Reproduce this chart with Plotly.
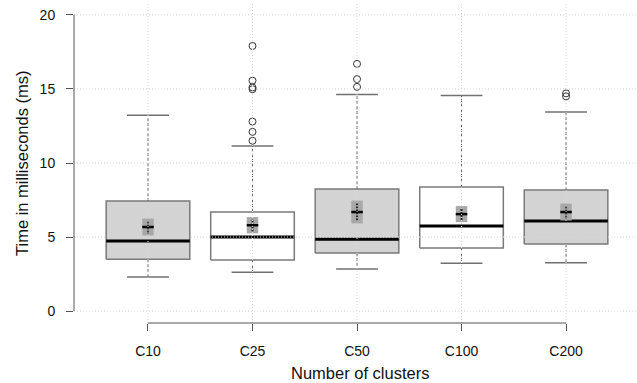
import plotly.graph_objects as go

categories = ["C10", "C25", "C50", "C100", "C200"]
q1 = [3.51, 3.45, 3.92, 4.26, 4.53]
median = [4.73, 5.00, 4.86, 5.74, 6.08]
q3 = [7.43, 6.69, 8.24, 8.38, 8.18]
lower_whisker = [2.30, 2.63, 2.84, 3.24, 3.27]
upper_whisker = [13.22, 11.15, 14.62, 14.55, 13.45]
means = [5.68, 5.80, 6.69, 6.55, 6.69]
mean_ci = [0.57, 0.55, 0.77, 0.54, 0.57]
outliers = [
    [],
    [11.5, 12.1, 12.8, 14.98, 15.1, 15.56, 17.9],
    [15.14, 15.66, 16.69],
    [],
    [14.5, 14.7],
]
fills = ["#d3d3d3", "#ffffff", "#d3d3d3", "#ffffff", "#d3d3d3"]
y_ticks = [0, 5, 10, 15, 20]

BOX_HALF = 0.4
CAP_HALF = 0.2
CI_HALF = 0.055

fig = go.Figure()
for i, c in enumerate(categories):
    fig.add_trace(go.Scatter(
        x=[i - BOX_HALF, i + BOX_HALF, i + BOX_HALF, i - BOX_HALF, i - BOX_HALF],
        y=[q1[i], q1[i], q3[i], q3[i], q1[i]],
        fill="toself", fillcolor=fills[i], mode="lines",
        line=dict(color="#7a7a7a", width=1.5), hoverinfo="skip", showlegend=False))
    fig.add_trace(go.Scatter(
        x=[i, i, None, i, i],
        y=[q3[i], upper_whisker[i], None, q1[i], lower_whisker[i]],
        mode="lines", line=dict(color="#666666", width=1, dash="3px,2px"),
        hoverinfo="skip", showlegend=False))
    fig.add_trace(go.Scatter(
        x=[i - CAP_HALF, i + CAP_HALF, None, i - CAP_HALF, i + CAP_HALF],
        y=[upper_whisker[i], upper_whisker[i], None, lower_whisker[i], lower_whisker[i]],
        mode="lines", line=dict(color="#707070", width=1.5),
        hoverinfo="skip", showlegend=False))
    fig.add_trace(go.Scatter(
        x=[i - BOX_HALF, i + BOX_HALF], y=[median[i], median[i]],
        mode="lines", line=dict(color="#000000", width=3),
        hoverinfo="skip", showlegend=False))
    lo, hi = means[i] - mean_ci[i], means[i] + mean_ci[i]
    fig.add_trace(go.Scatter(
        x=[i - CI_HALF, i + CI_HALF, i + CI_HALF, i - CI_HALF, i - CI_HALF],
        y=[lo, lo, hi, hi, lo],
        fill="toself", fillcolor="#a8a8a8", mode="lines",
        line=dict(color="#a8a8a8", width=0), hoverinfo="skip", showlegend=False))
    fig.add_trace(go.Scatter(
        x=[i, i], y=[means[i] - 0.75 * mean_ci[i], means[i] + 0.75 * mean_ci[i]],
        mode="lines", line=dict(color="#222222", width=2, dash="2px,1px"),
        hoverinfo="skip", showlegend=False))
    fig.add_trace(go.Scatter(
        x=[i - CI_HALF, i + CI_HALF], y=[means[i], means[i]],
        mode="lines", line=dict(color="#000000", width=2.5),
        hoverinfo="skip", showlegend=False))
    if outliers[i]:
        fig.add_trace(go.Scatter(
            x=[i] * len(outliers[i]), y=outliers[i], mode="markers",
            marker=dict(symbol="circle-open", size=7, color="#333333",
                        line=dict(width=1, color="#333333")),
            hoverinfo="skip", showlegend=False))

shapes = []
for v in y_ticks:
    shapes.append(dict(type="line", xref="paper", x0=0, x1=1, yref="y", y0=v, y1=v,
                       line=dict(color="#d8d8d8", width=1, dash="1px,2px"), layer="above"))
for i in range(len(categories)):
    shapes.append(dict(type="line", xref="x", x0=i, x1=i, yref="paper", y0=0, y1=1,
                       line=dict(color="#d8d8d8", width=1, dash="1px,2px"), layer="above"))
shapes.append(dict(type="line", xref="paper", x0=0, x1=0, yref="y", y0=y_ticks[0], y1=y_ticks[-1],
                   line=dict(color="#555555", width=1), layer="above"))
shapes.append(dict(type="line", xref="x", x0=0, x1=len(categories) - 1, yref="paper", y0=0, y1=0,
                   line=dict(color="#555555", width=1), layer="above"))

font = "Liberation Sans, Arial, Helvetica, sans-serif"
fig.update_layout(
    width=637, height=383,
    margin=dict(l=74, r=0, t=3, b=60),
    paper_bgcolor="white", plot_bgcolor="white",
    font=dict(family=font, color="#111111", size=14),
    shapes=shapes,
    xaxis=dict(range=[-0.708, 4.679], tickmode="array",
               tickvals=list(range(len(categories))), ticktext=categories,
               showgrid=False, zeroline=False, showline=False,
               ticks="outside", ticklen=7, tickcolor="#555555", tickwidth=1,
               ticklabelstandoff=8, tickfont=dict(size=14)),
    yaxis=dict(range=[-0.8, 20.8], tickmode="array", tickvals=y_ticks,
               ticktext=[str(v) for v in y_ticks],
               showgrid=False, zeroline=False, showline=False,
               ticks="outside", ticklen=7, tickcolor="#555555", tickwidth=1,
               ticklabelstandoff=8, tickfont=dict(size=14)),
    annotations=[
        dict(text="Number of clusters", xref="paper", yref="paper",
             x=(360 - 74) / 563, y=-(373 - 323) / 320, xanchor="center", yanchor="middle",
             showarrow=False, font=dict(size=16.5)),
        dict(text="Time in milliseconds (ms)", xref="paper", yref="y",
             x=-(74 - 22) / 563, y=10, xanchor="center", yanchor="middle",
             textangle=-90, showarrow=False, font=dict(size=16.5)),
    ],
)

fig.write_html("out.html")
